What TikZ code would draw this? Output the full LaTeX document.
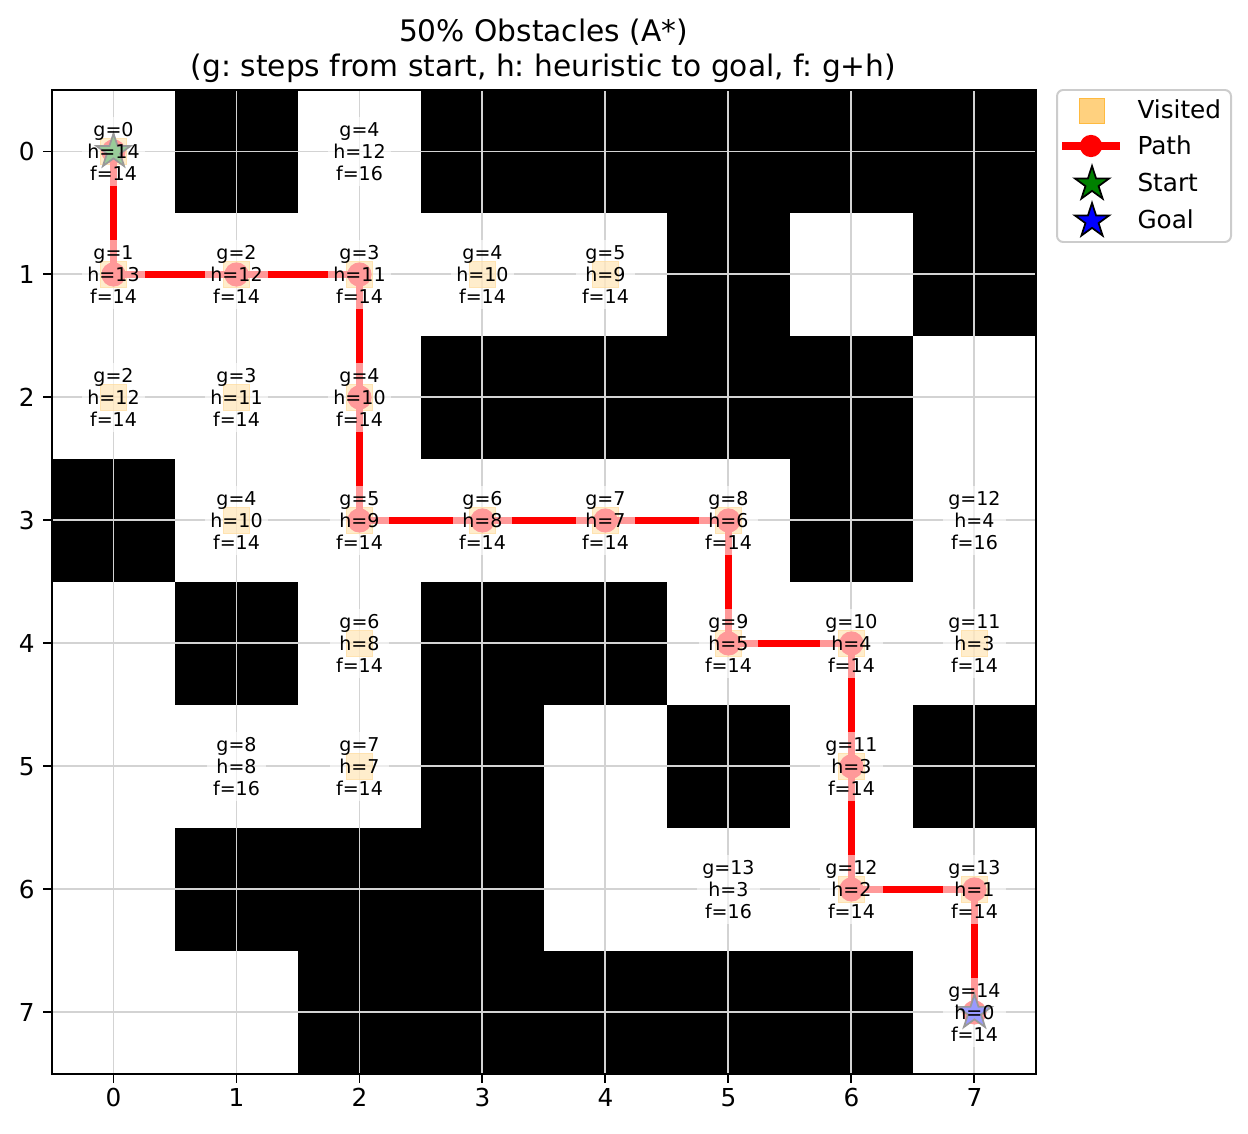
\documentclass[tikz,border=0pt]{standalone}
\usepackage{fontspec}
\setmainfont{DejaVu Sans}
\usepackage{tikz}
\usetikzlibrary{shapes.geometric}
\definecolor{mplorange}{HTML}{FFA500}
\definecolor{mplgreen}{HTML}{008000}
\definecolor{mplblue}{HTML}{0000FF}
\definecolor{gridgray}{HTML}{D3D3D3}
\definecolor{legendedge}{HTML}{CCCCCC}
\frenchspacing
\tikzset{
    wall/.style={
        fill=black
    },
    gridline/.style={
        draw=gridgray,
        line width=0.8pt
    },
    visitedbox/.style={
        rectangle,
        draw=mplorange,
        fill=mplorange,
        opacity=0.5,
        line width=0.5pt,
        inner sep=0pt,
        minimum size=10.6pt
    },
    pathline/.style={
        draw=red,
        line width=3pt
    },
    pathdot/.style={
        circle,
        fill=red,
        inner sep=0pt,
        minimum size=9.8pt
    },
    marker/.style={
        star,
        star points=5,
        star point ratio=2.618,
        draw=black,
        line width=0.7pt,
        inner sep=0pt,
        minimum size=14.6pt
    },
    cost/.style={
        align=center,
        font=\fontsize{7.7}{8.9}\selectfont,
        fill=white,
        fill opacity=0.6,
        text opacity=1,
        inner sep=2.3pt
    },
    ticklabel/.style={
        font=\fontsize{10}{12}\selectfont,
        inner sep=0pt
    },
    legendtext/.style={
        anchor=base west,
        font=\fontsize{10}{12}\selectfont,
        inner sep=0pt
    }
}

\begin{document}
\begin{tikzpicture}[x=0.4045pt, y=-0.4045pt]
    \useasboundingbox (0,0) rectangle (1248,1134);

    % title
    \node[anchor=base, font=\fontsize{12}{14}\selectfont] (title) at (543.5,42) {50\% Obstacles (A*)};
    \node[anchor=base, font=\fontsize{12}{14}\selectfont] (subtitle) at (543.5,77)
        {(g: steps from start, h: heuristic to goal, f: g+h)};

    \begin{scope}[shift={(113.5,151.5)}, x=49.75pt, y=-49.75pt]
        % obstacles
        \fill[wall] (0.5,-0.5) rectangle (1.5,0.5);
        \fill[wall] (2.5,-0.5) rectangle (7.5,0.5);
        \fill[wall] (4.5,0.5) rectangle (5.5,1.5);
        \fill[wall] (6.5,0.5) rectangle (7.5,1.5);
        \fill[wall] (2.5,1.5) rectangle (6.5,2.5);
        \fill[wall] (-0.5,2.5) rectangle (0.5,3.5);
        \fill[wall] (5.5,2.5) rectangle (6.5,3.5);
        \fill[wall] (0.5,3.5) rectangle (1.5,4.5);
        \fill[wall] (2.5,3.5) rectangle (4.5,4.5);
        \fill[wall] (2.5,4.5) rectangle (3.5,5.5);
        \fill[wall] (4.5,4.5) rectangle (5.5,5.5);
        \fill[wall] (6.5,4.5) rectangle (7.5,5.5);
        \fill[wall] (0.5,5.5) rectangle (3.5,6.5);
        \fill[wall] (1.5,6.5) rectangle (6.5,7.5);

        \foreach \k in {0,...,7} {
            \draw[gridline] (\k,-0.5) -- (\k,7.5);
            \draw[gridline] (-0.5,\k) -- (7.5,\k);
        }

        % visited cells
        \foreach \cx/\cy in {0/0,0/1,1/1,2/1,3/1,4/1,0/2,1/2,2/2,1/3,2/3,3/3,4/3,5/3,
                             2/4,5/4,6/4,7/4,2/5,6/5,6/6,7/6}
            \node[visitedbox] (v\cx-\cy) at (\cx,\cy) {};

        % path
        \coordinate (p0) at (0,0);
        \coordinate (p1) at (0,1);
        \coordinate (p2) at (1,1);
        \coordinate (p3) at (2,1);
        \coordinate (p4) at (2,2);
        \coordinate (p5) at (2,3);
        \coordinate (p6) at (3,3);
        \coordinate (p7) at (4,3);
        \coordinate (p8) at (5,3);
        \coordinate (p9) at (5,4);
        \coordinate (p10) at (6,4);
        \coordinate (p11) at (6,5);
        \coordinate (p12) at (6,6);
        \coordinate (p13) at (7,6);
        \coordinate (p14) at (7,7);
        \draw[pathline] (p0) -- (p1) -- (p2) -- (p3) -- (p4) -- (p5) -- (p6) -- (p7)
            -- (p8) -- (p9) -- (p10) -- (p11) -- (p12) -- (p13) -- (p14);
        \foreach \i in {0,...,14}
            \node[pathdot] (dot\i) at (p\i) {};

        \node[marker, fill=mplgreen] (start) at (p0) {};
        \node[marker, fill=mplblue] (goal) at (p14) {};

        % g, h, f per cell
        \node[cost] (c0-0) at (0,0) {g=0\\h=14\\f=14};
        \node[cost] (c2-0) at (2,0) {g=4\\h=12\\f=16};
        \node[cost] (c0-1) at (0,1) {g=1\\h=13\\f=14};
        \node[cost] (c1-1) at (1,1) {g=2\\h=12\\f=14};
        \node[cost] (c2-1) at (2,1) {g=3\\h=11\\f=14};
        \node[cost] (c3-1) at (3,1) {g=4\\h=10\\f=14};
        \node[cost] (c4-1) at (4,1) {g=5\\h=9\\f=14};
        \node[cost] (c0-2) at (0,2) {g=2\\h=12\\f=14};
        \node[cost] (c1-2) at (1,2) {g=3\\h=11\\f=14};
        \node[cost] (c2-2) at (2,2) {g=4\\h=10\\f=14};
        \node[cost] (c1-3) at (1,3) {g=4\\h=10\\f=14};
        \node[cost] (c2-3) at (2,3) {g=5\\h=9\\f=14};
        \node[cost] (c3-3) at (3,3) {g=6\\h=8\\f=14};
        \node[cost] (c4-3) at (4,3) {g=7\\h=7\\f=14};
        \node[cost] (c5-3) at (5,3) {g=8\\h=6\\f=14};
        \node[cost] (c7-3) at (7,3) {g=12\\h=4\\f=16};
        \node[cost] (c2-4) at (2,4) {g=6\\h=8\\f=14};
        \node[cost] (c5-4) at (5,4) {g=9\\h=5\\f=14};
        \node[cost] (c6-4) at (6,4) {g=10\\h=4\\f=14};
        \node[cost] (c7-4) at (7,4) {g=11\\h=3\\f=14};
        \node[cost] (c1-5) at (1,5) {g=8\\h=8\\f=16};
        \node[cost] (c2-5) at (2,5) {g=7\\h=7\\f=14};
        \node[cost] (c6-5) at (6,5) {g=11\\h=3\\f=14};
        \node[cost] (c5-6) at (5,6) {g=13\\h=3\\f=16};
        \node[cost] (c6-6) at (6,6) {g=12\\h=2\\f=14};
        \node[cost] (c7-6) at (7,6) {g=13\\h=1\\f=14};
        \node[cost] (c7-7) at (7,7) {g=14\\h=0\\f=14};

        % frame and ticks
        \draw[line width=0.9pt] (-0.5,-0.5) rectangle (7.5,7.5);
        \foreach \k in {0,...,7} {
            \draw[line width=0.8pt] (\k,7.5) -- ++(0pt,-3.5pt);
            \draw[line width=0.8pt] (-0.5,\k) -- ++(-3.5pt,0pt);
        }
    \end{scope}

    \foreach \k in {0,...,7} {
        \node[ticklabel, anchor=base] (xtick\k) at ({113.5+123*\k},1106) {\k};
        \node[ticklabel, anchor=base east] (ytick\k) at (35,{160.5+123*\k}) {\k};
    }

    % legend
    \draw[legendedge, line width=0.8pt, fill=white, rounded corners=2.5pt] (1057,90) rectangle (1231,242);
    \node[visitedbox, minimum size=10.4pt] (lgvisited) at (1092,111) {};
    \draw[pathline] (1062,146) -- (1120,146);
    \node[pathdot, minimum size=9pt] (lgpath) at (1091,146) {};
    \node[marker, fill=mplgreen] (lgstart) at (1092,184) {};
    \node[marker, fill=mplblue] (lggoal) at (1092,221) {};
    \node[legendtext] (tvisited) at (1137,119) {Visited};
    \node[legendtext] (tpath) at (1137,155) {Path};
    \node[legendtext] (tstart) at (1137,192) {Start};
    \node[legendtext] (tgoal) at (1137,229) {Goal};
\end{tikzpicture}
\end{document}
